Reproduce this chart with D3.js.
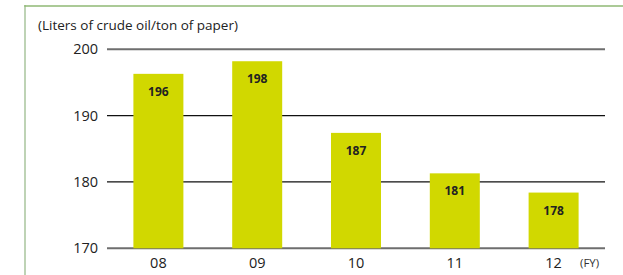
<!DOCTYPE html>
<html><head><meta charset="utf-8">
<script src="https://cdn.jsdelivr.net/npm/d3@7"></script>
<style>body{margin:0;background:#fff}svg{display:block;font-family:"Open Sans","Noto Sans",sans-serif}</style>
</head><body><svg id="c" width="623" height="275"></svg>
<script>
const categories = ["08","09","10","11","12"];
const values = [196.3, 198.2, 187.4, 181.3, 178.4];
const labels = ["196","198","187","181","178"];
const yTicks = [170,180,190,200];
const unitLabel = "(Liters of crude oil/ton of paper)";
const fyLabel = "(FY)";

const svg = d3.select("#c");
const x = d3.scaleBand().domain(categories).range([109,603]).paddingInner(0.494).paddingOuter(0.247);
const y = d3.scaleLinear().domain([170,200]).range([248.3,49.3]);

// frame
svg.append("line").attr("x1",25).attr("x2",25).attr("y1",5).attr("y2",275).attr("stroke","#a9c59c").attr("stroke-width",1.5);
svg.append("line").attr("x1",24.25).attr("x2",623).attr("y1",6).attr("y2",6).attr("stroke","#8fb874").attr("stroke-width",1.5);

svg.append("text").attr("x",38).attr("y",30).attr("font-size",13.5).attr("fill","#222").text(unitLabel);

// grid
const grid = svg.append("g");
yTicks.forEach(t=>{
  const edge = (t===170||t===200);
  grid.append("line").attr("x1",107).attr("x2",605).attr("y1",y(t)).attr("y2",y(t))
    .attr("stroke", edge?"#6e6e6e":"#111").attr("stroke-width", edge?2:1.2);
});
// y tick labels via axis
const yAxis = svg.append("g").attr("transform","translate(100,0)")
  .call(d3.axisLeft(y).tickValues(yTicks).tickSize(0).tickPadding(2));
yAxis.select(".domain").remove();
yAxis.selectAll("text").attr("font-size",14.5).attr("fill","#222").attr("font-family","'Open Sans','Noto Sans',sans-serif");

// bars
svg.selectAll("rect.bar").data(values).enter().append("rect").attr("class","bar")
  .attr("x",(d,i)=>x(categories[i])).attr("width",x.bandwidth())
  .attr("y",d=>y(d)).attr("height",d=>y(170)-y(d)).attr("fill","#d1d800");
svg.selectAll("text.val").data(values).enter().append("text").attr("class","val")
  .attr("x",(d,i)=>x(categories[i])+x.bandwidth()/2).attr("y",d=>y(d)+22)
  .attr("text-anchor","middle").attr("font-size",12).attr("font-weight","bold").attr("fill","#222")
  .text((d,i)=>labels[i]);

// x axis labels
const xAxis = svg.append("g").attr("transform","translate(0,250)")
  .call(d3.axisBottom(x).tickSize(0).tickPadding(7.5));
xAxis.select(".domain").remove();
xAxis.selectAll("text").attr("font-size",14.5).attr("fill","#222").attr("font-family","'Open Sans','Noto Sans',sans-serif");

svg.append("text").attr("x",580).attr("y",267).attr("font-size",11.5).attr("fill","#333").text(fyLabel);
</script></body></html>
